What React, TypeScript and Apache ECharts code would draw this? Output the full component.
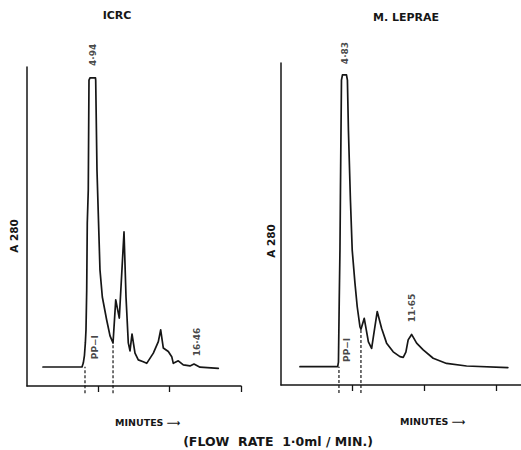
import React, { useEffect, useRef } from "react";
import * as echarts from "echarts";

// Left panel (ICRC): x in chart-divisions (ticks every 10), y in % of full scale
const icrcCurve: [number, number][] = [
  [2.24, 5.96], [7.71, 5.96], [7.89, 7.2], [8.05, 9.5], [8.18, 13.5], [8.27, 17.6], [8.37, 30.0],
  [8.45, 51.1], [8.59, 61.4], [8.69, 95.9], [8.83, 96.6], [9.6, 96.6], [9.63, 95.9], [9.81, 67.7],
  [10.02, 52.0], [10.23, 36.4], [10.56, 27.9], [11.17, 20.7], [11.64, 15.7], [12.06, 13.5],
  [12.44, 27.0], [12.94, 21.3], [13.6, 48.3], [13.88, 27.9], [14.2, 13.5], [14.44, 11.0],
  [14.72, 16.3], [15.14, 10.3], [15.6, 8.2], [16.3, 7.6], [16.78, 7.1], [17.71, 10.3],
  [18.41, 13.9], [18.74, 17.6], [19.11, 11.9], [19.81, 10.8], [20.29, 9.2], [20.51, 7.1],
  [21.21, 7.9], [21.91, 6.6], [22.85, 6.3], [23.41, 6.9], [24.25, 5.9], [26.82, 5.5],
];
// Right panel (M. LEPRAE)
const lepraeCurve: [number, number][] = [
  [2.65, 5.7], [7.91, 5.7], [8.02, 7.1], [8.13, 26.4], [8.23, 41.9], [8.3, 60.6], [8.44, 94.7],
  [8.58, 96.3], [9.14, 96.3], [9.27, 94.7], [9.41, 79.2], [9.69, 57.5], [9.94, 41.9],
  [10.32, 31.7], [10.64, 24.3], [11.02, 18.1], [11.16, 17.3], [11.62, 20.7], [12.2, 13.4],
  [12.65, 11.4], [13.04, 17.1], [13.43, 22.8], [14.04, 17.6], [14.74, 13.0], [15.66, 10.3],
  [16.6, 8.8], [17.06, 8.6], [17.43, 10.2], [17.75, 14.0], [18.23, 15.7], [18.93, 13.0],
  [19.85, 10.9], [21.24, 8.3], [23.11, 6.7], [25.9, 5.9], [31.66, 5.4],
];
// PP-I fraction boundaries: [x, top y]
const icrcCuts: [number, number][] = [[8.13, 6.0], [12.06, 13.5]];
const lepraeCuts: [number, number][] = [[8.09, 5.7], [11.16, 17.3]];
const icrcCutBottom = -2.3;
const lepraeCutBottom = -2.5;
// Peak annotations: name, x, y (label centre)
const icrcLabels = [
  { name: "4·94", value: [9.25, 103.8] },
  { name: "PP−I", value: [9.6, 12.2] },
  { name: "16·46", value: [23.83, 13.8] },
];
const lepraeLabels = [
  { name: "4·83", value: [8.93, 103.1] },
  { name: "PP−I", value: [9.21, 10.9] },
  { name: "11·65", value: [18.27, 23.9] },
];
const tickValues = [10, 20, 30];
const titles = ["ICRC", "M. LEPRAE"];
const yTitle = "A 280";
const xTitle = "MINUTES ⟶";
const footnote = "(FLOW  RATE  1·0ml / MIN.)";

const INK = "#161616";
const FONT = "DejaVu Sans";

export default function App() {
  const ref = useRef<HTMLDivElement>(null);
  useEffect(() => {
    if (!ref.current) return;
    const chart = echarts.init(ref.current, null, { renderer: "svg" });
    const xAxisBase = (gridIndex: number, max: number) => ({
      type: "value" as const,
      gridIndex,
      min: 0,
      max,
      interval: 10,
      axisLine: { show: true, lineStyle: { color: INK, width: 1.5 } },
      axisTick: { show: true, customValues: tickValues, length: 6, lineStyle: { color: INK, width: 1.3 } },
      axisLabel: { show: false },
      splitLine: { show: false },
    });
    const yAxisBase = (gridIndex: number) => ({
      type: "value" as const,
      gridIndex,
      min: 0,
      max: 100,
      axisLine: { show: true, lineStyle: { color: INK, width: 1.5 } },
      axisTick: { show: false },
      axisLabel: { show: false },
      splitLine: { show: false },
    });
    const curve = (data: [number, number][], idx: number) => ({
      type: "line" as const,
      xAxisIndex: idx,
      yAxisIndex: idx,
      data,
      symbol: "none",
      lineStyle: { color: INK, width: 1.7, join: "round", cap: "round" },
      clip: false,
    });
    const cut = (c: [number, number], bottom: number, idx: number) => ({
      type: "line" as const,
      xAxisIndex: idx,
      yAxisIndex: idx,
      data: [[c[0], bottom], [c[0], c[1]]],
      symbol: "none",
      lineStyle: { color: INK, width: 1.2, type: [3, 2] },
      clip: false,
    });
    const labels = (data: any[], idx: number) => ({
      type: "scatter" as const,
      xAxisIndex: idx,
      yAxisIndex: idx,
      data,
      symbolSize: 0,
      clip: false,
      silent: true,
      label: {
        show: true,
        formatter: "{b}",
        position: "inside",
        rotate: 90,
        align: "center",
        verticalAlign: "middle",
        color: INK,
        fontFamily: FONT,
        fontWeight: "bold",
        fontSize: 9,
      },
    });
    const txt = (text: string, x: number, y: number, size: number, rot = 0, align = "center") => ({
      type: "text",
      x,
      y,
      rotation: rot,
      style: {
        text,
        fill: INK,
        font: `bold ${size}px "${FONT}"`,
        align,
        verticalAlign: "middle",
      },
    });
    chart.setOption({
      animation: false,
      backgroundColor: "#ffffff",
      grid: [
        { left: 27, top: 67, width: 214, height: 319 },
        { left: 281, top: 63, width: 240, height: 322 },
      ],
      xAxis: [xAxisBase(0, 30), xAxisBase(1, 33.5)],
      yAxis: [yAxisBase(0), yAxisBase(1)],
      series: [
        curve(icrcCurve, 0),
        curve(lepraeCurve, 1),
        ...icrcCuts.map((c) => cut(c, icrcCutBottom, 0)),
        ...lepraeCuts.map((c) => cut(c, lepraeCutBottom, 1)),
        labels(icrcLabels, 0),
        labels(lepraeLabels, 1),
      ],
      graphic: [
        txt(titles[0], 117, 15, 11),
        txt(titles[1], 406, 17, 11),
        txt(yTitle, 14, 236, 10.5, Math.PI / 2),
        txt(yTitle, 271, 241, 10.5, Math.PI / 2),
        txt(xTitle, 115, 422, 9.5, 0, "left"),
        txt(xTitle, 400, 421, 9.5, 0, "left"),
        txt(footnote, 278, 441, 12.5),
      ],
    });
    return () => chart.dispose();
  }, []);
  return (
    <div
      ref={ref}
      style={{ position: "absolute", left: 0, top: 0, width: 521, height: 450, background: "#fff" }}
    />
  );
}
